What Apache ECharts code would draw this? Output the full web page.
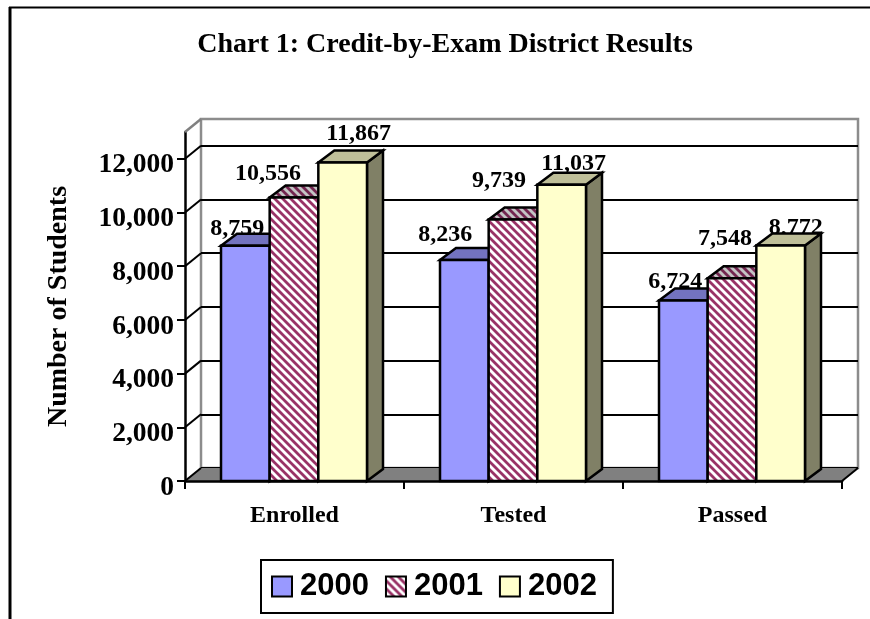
<!DOCTYPE html>
<html><head><meta charset="utf-8">
<style>html,body{margin:0;padding:0;background:#fff}#c{width:870px;height:619px}</style>
<script src="https://cdn.jsdelivr.net/npm/echarts@6/dist/echarts.min.js"></script>
</head><body><div id="c"></div>
<script>
const categories = ['Enrolled', 'Tested', 'Passed'];
const seriesNames = ['2000', '2001', '2002'];
const values2000 = [8759, 8236, 6724];
const values2001 = [10556, 9739, 7548];
const values2002 = [11867, 11037, 8772];
const yTicks = [0, 2000, 4000, 6000, 8000, 10000, 12000];
const axisMax = 13000;

// layout-only settings
const depth = [16, -12];
const wallDepth = [16, -13];
const barShare = 0.2222;
const labelNudge = {
  '2000': [[-8, -17], [-19, -25], [-8, -19]],
  '2001': [[-26, -24], [-14, -39], [-7, -40]],
  '2002': [[16, -29], [12, -21], [15, -18]]
};

function stripes(bg, fg) {
  const p = 8, cv = document.createElement('canvas');
  cv.width = p; cv.height = p;
  const g = cv.getContext('2d');
  g.fillStyle = bg; g.fillRect(0, 0, p, p);
  g.strokeStyle = fg; g.lineWidth = 2.9;
  for (let o = -p; o <= p; o += p) {
    g.beginPath(); g.moveTo(o - 2, -2); g.lineTo(o + p + 2, p + 2); g.stroke();
  }
  return { image: cv, repeat: 'repeat' };
}
const palette = {
  '2000': { front: '#9999FF', top: '#7373BF', side: '#66669A' },
  '2001': { front: stripes('#993366', '#ffffff'), top: stripes('#732650', '#c4c4c4'), side: '#732650' },
  '2002': { front: '#FFFFCC', top: '#BFBF99', side: '#808066' }
};

function barRender(name, si) {
  return function (params, api) {
    const c = api.value(0), v = api.value(1);
    const band = api.size([1, 0])[0], w = band * barShare;
    const p0 = api.coord([c, 0]), p1 = api.coord([c, v]);
    const x0 = p0[0] - 0.5 + (si - 1.5) * w, x1 = x0 + w;
    const yb = p0[1], yt = p1[1], dx = depth[0], dy = depth[1];
    const pal = palette[name], edge = { stroke: '#000', lineWidth: 2.5, lineJoin: 'miter' };
    const nudge = labelNudge[name][c];
    return { type: 'group', children: [
      { type: 'text', style: { text: api.value(1).toLocaleString('en-US'), x: (x0 + x1) / 2 + nudge[0], y: yt + nudge[1],
          fill: '#000', font: 'bold 24px "Liberation Serif"', align: 'center', verticalAlign: 'middle' } },
      { type: 'polygon', shape: { points: [[x1, yb], [x1 + dx, yb + dy], [x1 + dx, yt + dy], [x1, yt]] }, style: Object.assign({ fill: pal.side }, edge) },
      { type: 'polygon', shape: { points: [[x0, yt], [x0 + dx, yt + dy], [x1 + dx, yt + dy], [x1, yt]] }, style: Object.assign({ fill: pal.top }, edge) },
      { type: 'rect', shape: { x: x0, y: yt, width: w, height: yb - yt }, style: Object.assign({ fill: pal.front }, edge) }
    ] };
  };
}
function wallRender(params, api) {
  const a = api.coord([0, api.value(0)]);
  const L = params.coordSys.x, y = a[1];
  return { type: 'line', shape: { x1: L, y1: y, x2: L + wallDepth[0], y2: y + wallDepth[1] }, style: { stroke: '#000', lineWidth: 2 } };
}
function floorRender(params, api) {
  const cs = params.coordSys, L = cs.x, R = cs.x + cs.width, B = cs.y + cs.height, T = cs.y;
  const dx = wallDepth[0], dy = wallDepth[1];
  return { type: 'group', children: [
    { type: 'polygon', shape: { points: [[L, B], [L + dx, B + dy], [R + dx, B + dy], [R, B]] }, style: { fill: '#808080', stroke: 'none' } },
    { type: 'line', shape: { x1: R, y1: B, x2: R + dx, y2: B + dy }, style: { stroke: '#000', lineWidth: 2 } },
    { type: 'line', shape: { x1: L, y1: T, x2: L + dx, y2: T + dy }, style: { stroke: '#808080', lineWidth: 2.5 } }
  ] };
}

const allValues = { '2000': values2000, '2001': values2001, '2002': values2002 };
const chart = echarts.init(document.getElementById('c'));
chart.setOption({
  animation: false,
  backgroundColor: '#fff',
  title: { text: 'Chart 1: Credit-by-Exam District Results', left: 440, top: 26, textAlign: 'center',
    textStyle: { fontFamily: 'Liberation Serif', fontWeight: 'bold', fontSize: 28, color: '#000' } },
  legend: {
    data: seriesNames, left: 261, top: 560, orient: 'horizontal', icon: 'rect', itemWidth: 20, itemHeight: 20, itemGap: 16,
    padding: [11, 16, 11, 10], borderColor: '#000', borderWidth: 2, backgroundColor: '#fff',
    textStyle: { fontFamily: 'Liberation Sans', fontWeight: 'bold', fontSize: 31, color: '#000', padding: [0, 0, 0, 3] },
    selectedMode: false
  },
  grid: [
    { left: 185, right: 28, top: 132, bottom: 138 },
    { left: 201, right: 12, top: 119, bottom: 151, show: true, borderColor: '#8c8c8c', borderWidth: 2.5, backgroundColor: '#fff' }
  ],
  xAxis: [
    { type: 'category', gridIndex: 0, data: categories, axisLine: { lineStyle: { color: '#000', width: 2.5 } },
      axisTick: { show: true, length: 8, alignWithLabel: false, lineStyle: { color: '#000', width: 2 } },
      axisLabel: { margin: 23, color: '#000', fontFamily: 'Liberation Serif', fontWeight: 'bold', fontSize: 24 }, splitLine: { show: false }, z: 5 },
    { type: 'category', gridIndex: 1, data: categories, show: false }
  ],
  yAxis: [
    { type: 'value', gridIndex: 0, min: 0, max: axisMax, interval: 2000,
      name: 'Number of Students', nameLocation: 'middle', nameGap: 112, nameRotate: 90,
      nameTextStyle: { color: '#000', fontFamily: 'Liberation Serif', fontWeight: 'bold', fontSize: 28 },
      axisLine: { show: true, lineStyle: { color: '#000', width: 2.5 } },
      axisTick: { show: true, length: 8, customValues: yTicks, lineStyle: { color: '#000', width: 2 } },
      axisLabel: { customValues: yTicks, margin: 11, color: '#000', fontFamily: 'Liberation Serif', fontWeight: 'bold', fontSize: 27.5,
        verticalAlign: 'top', lineHeight: 13, formatter: v => v.toLocaleString('en-US') },
      splitLine: { show: false } },
    { type: 'value', gridIndex: 1, min: 0, max: axisMax, interval: 2000,
      axisLine: { show: false }, axisTick: { show: false, customValues: yTicks }, axisLabel: { show: false },
      splitLine: { show: true, lineStyle: { color: '#000', width: 2 } } }
  ],
  graphic: [
    { type: 'line', silent: true, z: 100, shape: { x1: 10, y1: 619, x2: 10, y2: 7 }, style: { stroke: '#000', lineWidth: 3 } },
    { type: 'line', silent: true, z: 100, shape: { x1: 9, y1: 7.5, x2: 870, y2: 7.5 }, style: { stroke: '#000', lineWidth: 2 } }
  ],
  series: [
    { type: 'custom', name: 'floor', xAxisIndex: 0, yAxisIndex: 0, z: 2, silent: true, renderItem: floorRender, data: [[0]], encode: { x: 0 } },
    { type: 'custom', name: 'wall', xAxisIndex: 0, yAxisIndex: 0, z: 2, silent: true, renderItem: wallRender, data: yTicks.map(t => [t]), encode: { y: 0 } }
  ].concat(seriesNames.map((n, si) => ({
    type: 'custom', name: n, xAxisIndex: 0, yAxisIndex: 0, z: 3 + si, renderItem: barRender(n, si),
    itemStyle: { color: palette[n].front, borderColor: '#000', borderWidth: 2 },
    encode: { x: 0, y: 1 },
    data: allValues[n].map((v, i) => [i, v])
  })))
});
</script></body></html>
